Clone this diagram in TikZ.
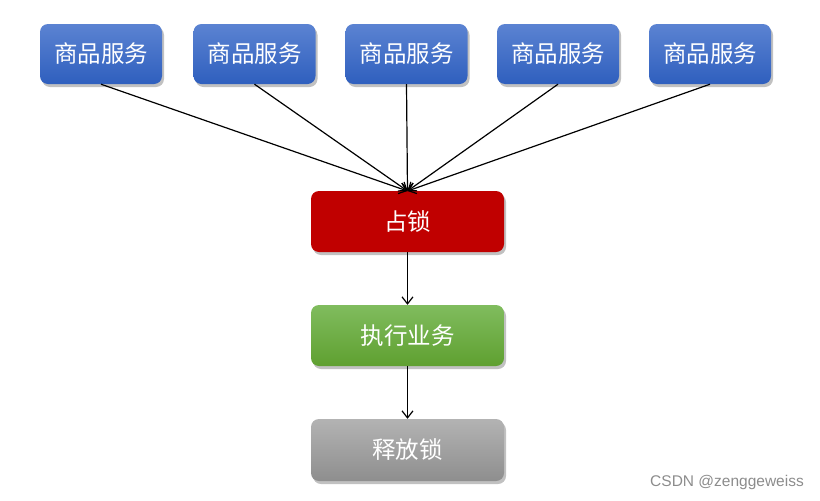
\documentclass[tikz,border=0pt]{standalone}
\usepackage{fontspec}
\newfontfamily\cjk{Noto Sans CJK SC}
\setmainfont{Liberation Sans}
\usetikzlibrary{arrows.meta,shadows,shadings}
\begin{document}
\begin{tikzpicture}[x=1pt,y=-1pt,
  box/.style={rounded corners=8pt, minimum width=122pt, minimum height=60pt, inner sep=0pt,
    text=white, font=\cjk\fontsize{23.5}{26}\selectfont,
    drop shadow={shadow xshift=2pt, shadow yshift=-3pt, opacity=0.35, fill=black!70}},
  bluebox/.style={box, top color=blue0top, bottom color=blue0bot},
  redbox/.style={box, fill=red0, minimum width=193pt, minimum height=61pt},
  greenbox/.style={box, top color=green0top, bottom color=green0bot, minimum width=193pt, minimum height=61pt},
  graybox/.style={box, top color=gray0top, bottom color=gray0bot, minimum width=193pt, minimum height=62pt},
  conn/.style={draw=black, line width=1.2pt, -{Straight Barb[length=7pt,width=11pt,line width=1.2pt]}}
]
\definecolor{blue0top}{HTML}{5B83D2}
\definecolor{blue0bot}{HTML}{2F5FBE}
\definecolor{red0}{HTML}{C00000}
\definecolor{green0top}{HTML}{80BC5E}
\definecolor{green0bot}{HTML}{5FA030}
\definecolor{gray0top}{HTML}{B3B3B3}
\definecolor{gray0bot}{HTML}{8E8E8E}
\useasboundingbox (0,0) rectangle (820,501);
\node[bluebox] (s1) at (101,54) {商品服务};
\node[bluebox] (s2) at (254.5,54) {商品服务};
\node[bluebox] (s3) at (406.5,54) {商品服务};
\node[bluebox] (s4) at (558,54) {商品服务};
\node[bluebox] (s5) at (710,54) {商品服务};
\node[redbox] (lock) at (407.5,221.5) {占锁};
\node[greenbox] (exec) at (407.5,335.5) {执行业务};
\node[graybox] (rel) at (407.5,450) {释放锁};
\coordinate (t) at (407.5,191);
\draw[conn] (s1.south) -- (t);
\draw[conn] (s2.south) -- (t);
\draw[conn] (s3.south) -- (t);
\draw[conn] (s4.south) -- (t);
\draw[conn] (s5.south) -- (t);
\draw[conn] (lock.south) -- (exec.north);
\draw[conn] (exec.south) -- (rel.north);
\node[text=black!45, font=\fontsize{15.5}{18}\selectfont, anchor=east, inner sep=0pt] (wm) at (804,482) {CSDN @zenggeweiss};
\end{tikzpicture}
\end{document}
